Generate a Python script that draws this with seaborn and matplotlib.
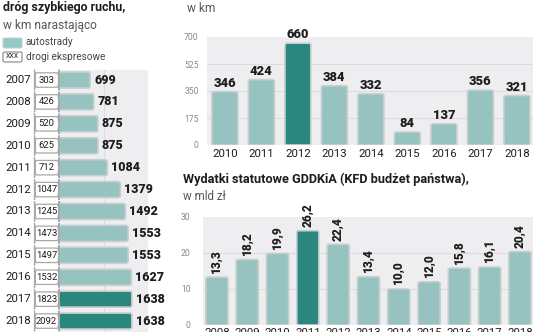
import matplotlib
matplotlib.use("Agg")
import matplotlib.pyplot as plt
import seaborn as sns
import pandas as pd
from matplotlib.patches import FancyBboxPatch, Rectangle

sns.set_theme(style="white")
plt.rcParams['font.family'] = ['Roboto', 'DejaVu Sans']

# ---- data ----
years_left = ["2007", "2008", "2009", "2010", "2011", "2012", "2013", "2014", "2015", "2016", "2017", "2018"]
ekspresowe = [303, 426, 520, 625, 712, 1047, 1245, 1473, 1497, 1532, 1823, 2092]
autostrady = [699, 781, 875, 875, 1084, 1379, 1492, 1553, 1553, 1627, 1638, 1638]

years_km = ["2010", "2011", "2012", "2013", "2014", "2015", "2016", "2017", "2018"]
km_built = [346, 424, 660, 384, 332, 84, 137, 356, 321]

years_exp = ["2008", "2009", "2010", "2011", "2012", "2013", "2014", "2015", "2016", "2017", "2018"]
wydatki = [13.3, 18.2, 19.9, 26.2, 22.4, 13.4, 10.0, 12.0, 15.8, 16.1, 20.4]

LIGHT = "#8fcac5"
DARK = "#1b968a"
EDGE = "#c9cfce"
PANEL = "#eeeef1"
TXT = "#1e1e1e"
GRAY = "#8a8a8a"
NUMW = 900

W, H = 536, 332
fig = plt.figure(figsize=(W / 100, H / 100), dpi=100)


def px_axes(x0, y0, x1, y1):
    return fig.add_axes([x0 / W, 1 - y1 / H, (x1 - x0) / W, (y1 - y0) / H])


def ftext(x, y, s, **kw):
    fig.text(x / W, 1 - y / H, s, **kw)


def round_bars(ax, rpx=2.0):
    """Replace seaborn's bar rectangles by rounded ones of the same geometry."""
    bb = ax.get_window_extent()
    x0, x1 = ax.get_xlim()
    y0, y1 = ax.get_ylim()
    ux = abs(x1 - x0) / bb.width   # data units per pixel in x
    uy = abs(y1 - y0) / bb.height  # data units per pixel in y
    rects = [p for p in ax.patches if isinstance(p, Rectangle)]
    for p in rects:
        new = FancyBboxPatch((p.get_x(), p.get_y()), p.get_width(), p.get_height(),
                             boxstyle=f"round,pad=0,rounding_size={rpx * ux}",
                             mutation_aspect=uy / ux,
                             fc=p.get_facecolor(), ec=p.get_edgecolor(),
                             lw=p.get_linewidth(), zorder=p.get_zorder())
        p.remove()
        ax.add_patch(new)


# ---- left chart ----
axL = px_axes(59, 70, 148, 332)
axL.set_facecolor(PANEL)
dfL = pd.DataFrame({"rok": years_left, "auto": autostrady})
palL = {y: (DARK if y in ("2017", "2018") else LIGHT) for y in years_left}
sns.barplot(data=dfL, x="auto", y="rok", hue="rok", palette=palL, orient="h",
            width=0.73, edgecolor=EDGE, linewidth=1.2, legend=False, ax=axL, zorder=3)
axL.set_xlim(0, 2000)
axL.set_ylim(11.5, -0.457)
axL.axvline(1000, color="#dcdce0", lw=0.8, zorder=1)
axL.set_xlabel("")
axL.set_ylabel("")
axL.set_xticks([])
axL.set_yticks([])
for s in axL.spines.values():
    s.set_visible(False)
round_bars(axL)
box_w = 575
for i, (e, a) in enumerate(zip(ekspresowe, autostrady)):
    axL.add_patch(FancyBboxPatch((-box_w + 25, i - 0.33), box_w - 25, 0.66,
                                 boxstyle="round,pad=0,rounding_size=40",
                                 mutation_aspect=0.02,
                                 fc="white", ec="#a9a9a9", lw=0.9, clip_on=False, zorder=4))
    axL.text(-box_w / 2 + 10, i, str(e), ha="center", va="center", fontsize=6.8,
             color=TXT, clip_on=False, zorder=5)
    axL.text(a + 90, i, str(a), ha="left", va="center", fontsize=9.0,
             fontweight=NUMW, color=TXT, clip_on=False)
    axL.text(-box_w - 60, i, years_left[i], ha="right", va="center", fontsize=8.2,
             color=TXT, clip_on=False)

ftext(3, 11, "dróg szybkiego ruchu,", fontsize=8.9, fontweight="bold", color=TXT, va="baseline")
ftext(3, 25, "w km narastająco", fontsize=8.6, color="#555555", va="center")
# legend
fig.patches.append(FancyBboxPatch((3 / W, 1 - 48 / H), 19 / W, 10 / H,
                                  boxstyle="round,pad=0,rounding_size=0.004",
                                  transform=fig.transFigure, fc=LIGHT, ec=EDGE, lw=0.8))
ftext(26, 42, "autostrady", fontsize=7.2, color="#444444", va="center")
fig.patches.append(FancyBboxPatch((3 / W, 1 - 62 / H), 19 / W, 10 / H,
                                  boxstyle="round,pad=0,rounding_size=0.004",
                                  transform=fig.transFigure, fc="white", ec="#888888", lw=0.8))
ftext(12.5, 57, "XXX", fontsize=5, color=TXT, va="center", ha="center")
ftext(26, 57, "drogi ekspresowe", fontsize=7.2, color="#444444", va="center")

# ---- top right chart ----
axT = px_axes(207, 37, 533, 145)
axT.set_facecolor(PANEL)
dfT = pd.DataFrame({"rok": years_km, "km": km_built})
palT = {y: (DARK if y == "2012" else LIGHT) for y in years_km}
sns.barplot(data=dfT, x="rok", y="km", hue="rok", palette=palT, width=0.71,
            edgecolor=EDGE, linewidth=1.2, legend=False, ax=axT, zorder=3)
axT.set_ylim(0, 700)
axT.set_xlim(-0.49, 8.44)
axT.set_yticks([0, 175, 350, 525, 700])
axT.set_yticklabels(["0", "175", "350", "525", "700"], fontsize=6.2, color=GRAY)
axT.tick_params(axis="y", length=0, pad=6)
axT.tick_params(axis="x", length=0, pad=3, labelsize=8.2, labelcolor=TXT)
for t in [175, 350, 525]:
    axT.axhline(t, color="#dcdce0", lw=0.8, zorder=1)
axT.set_xlabel("")
axT.set_ylabel("")
for s in axT.spines.values():
    s.set_visible(False)
round_bars(axT)
for i, v in enumerate(km_built):
    axT.text(i, v + 12, str(v), ha="center", va="bottom", fontsize=9.4,
             fontweight=NUMW, color=TXT, clip_on=False)
ftext(187, 8, "w km", fontsize=8.6, color="#555555", va="center")

# ---- bottom right chart ----
axB = px_axes(203, 217, 533, 325)
axB.set_facecolor(PANEL)
dfB = pd.DataFrame({"rok": years_exp, "mld": wydatki})
palB = {y: (DARK if y == "2011" else LIGHT) for y in years_exp}
sns.barplot(data=dfB, x="rok", y="mld", hue="rok", palette=palB, width=0.73,
            edgecolor=EDGE, linewidth=1.2, legend=False, ax=axB, zorder=3)
axB.set_ylim(0, 30)
axB.set_xlim(-0.46, 10.43)
axB.set_yticks([0, 10, 20, 30])
axB.set_yticklabels(["0", "10", "20", "30"], fontsize=6.2, color=GRAY)
axB.tick_params(axis="y", length=0, pad=9)
axB.tick_params(axis="x", length=0, pad=2, labelsize=8.2, labelcolor=TXT)
for t in [10, 20]:
    axB.axhline(t, color="#dcdce0", lw=0.8, zorder=1)
axB.set_xlabel("")
axB.set_ylabel("")
for s in axB.spines.values():
    s.set_visible(False)
round_bars(axB)
for i, v in enumerate(wydatki):
    axB.text(i, v + 1.0, f"{v:.1f}".replace(".", ","), ha="center", va="bottom",
             rotation=90, fontsize=8.6, fontweight=NUMW,
             color=TXT, clip_on=False)
ftext(183, 179, "Wydatki statutowe GDDKiA (KFD budżet państwa),", fontsize=9.2,
      fontweight="bold", color=TXT, va="center")
ftext(183, 196, "w mld zł", fontsize=8.4, color="#555555", va="center")

fig.savefig("out.png", dpi=100, facecolor="white")
